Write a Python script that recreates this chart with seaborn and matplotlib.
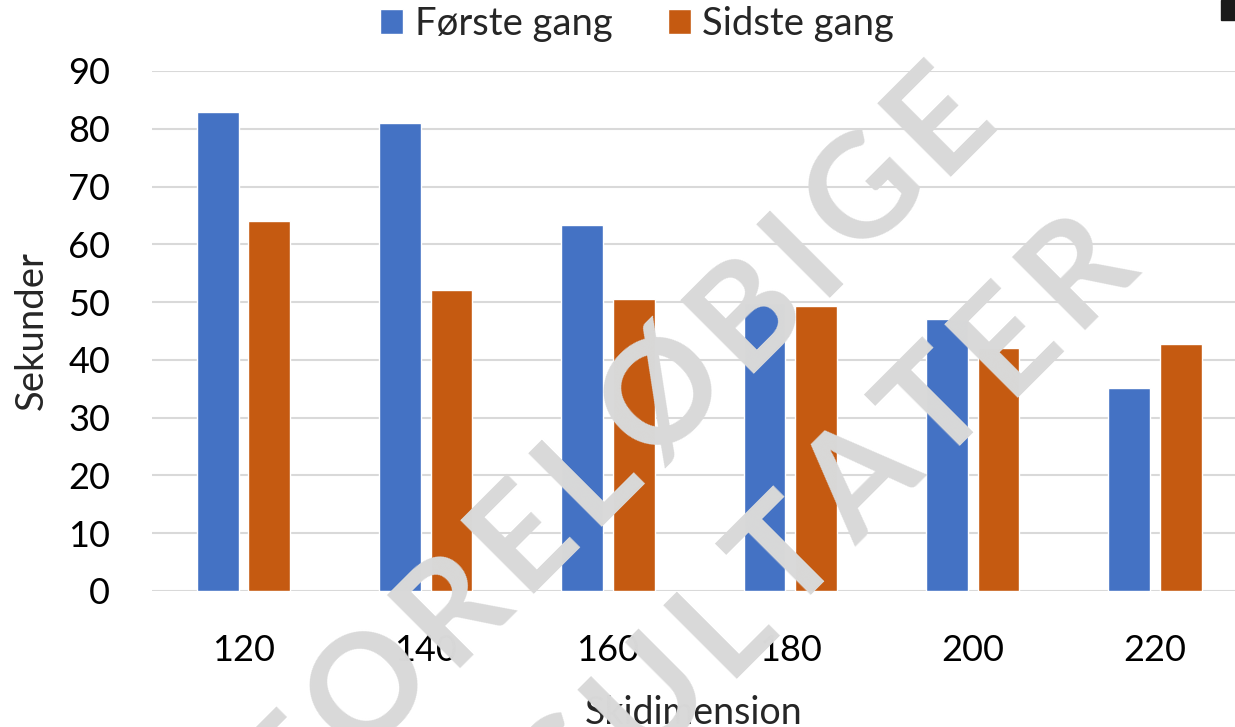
import matplotlib
matplotlib.use("Agg")
import matplotlib.pyplot as plt
import seaborn as sns
import pandas as pd
import numpy as np
from matplotlib.patches import Rectangle
from matplotlib.font_manager import FontProperties

categories = ["120", "140", "160", "180", "200", "220"]
series_names = ["Første gang", "Sidste gang"]
forste = [82.9, 81.0, 63.3, 49.8, 47.0, 35.1]
sidste = [64.0, 52.1, 50.6, 49.3, 42.1, 42.7]
yticks = [0, 10, 20, 30, 40, 50, 60, 70, 80, 90]
watermark_lines = ["FORELØBIGE", "RESULTATER"]

sns.set_style("white")
plt.rcParams['font.family'] = ['Lato', 'DejaVu Sans']

df = pd.DataFrame({
    "Skidimension": categories * 2,
    "Sekunder": forste + sidste,
    "Serie": [series_names[0]] * len(categories) + [series_names[1]] * len(categories),
})

W, H = 1235, 727
fig = plt.figure(figsize=(W / 100, H / 100), dpi=100)
ax = fig.add_axes([152 / W, 136 / H, (W - 152) / W, 520 / H])

sns.barplot(data=df, x="Skidimension", y="Sekunder", hue="Serie",
            order=categories, hue_order=series_names,
            palette=["#4472C4", "#C55A11"], width=0.565, gap=0.19,
            saturation=1, ax=ax, zorder=2)

ax.set_ylim(0, 90)
ax.set_xlim(-0.502, 5.439)
ax.set_yticks(yticks)
ax.yaxis.grid(True, color="#D9D9D9", linewidth=1.5, zorder=0)
ax.set_axisbelow(True)
for s in ax.spines.values():
    s.set_visible(False)
ax.tick_params(axis="both", length=0, labelsize=26, colors="black")
ax.tick_params(axis="y", pad=30)
ax.tick_params(axis="x", pad=31)
ax.set_xlabel("Skidimension", fontsize=27, labelpad=20)
ax.set_ylabel("Sekunder", fontsize=27.5, labelpad=13)

leg = ax.get_legend()
handles, labels = ax.get_legend_handles_labels()
leg.remove()
fig.legend(handles, labels, loc="center", bbox_to_anchor=(0.516, 1 - 24 / H),
           ncol=2, frameon=False, fontsize=27.5, handlelength=0.6, handleheight=0.6,
           handletextpad=0.3, columnspacing=1.45, borderaxespad=0)

# watermark: letters laid out along a 45 degree line with extra tracking
wm_size = 104
fp = FontProperties(family=["Lato", "DejaVu Sans"], weight="bold", size=wm_size)
renderer = fig.canvas.get_renderer()
angle = np.deg2rad(45)
ux, uy = np.cos(angle), -np.sin(angle)  # direction in screen pixels (y down)
tracking = 12
centres = [(645, 472), (787, 617)]  # baseline centres in screen pixels
for line, (cx, cy) in zip(watermark_lines, centres):
    widths = [renderer.get_text_width_height_descent(ch, fp, ismath=False)[0] for ch in line]
    total = sum(widths) + tracking * (len(line) - 1)
    s = -total / 2
    for ch, w in zip(line, widths):
        d = s + w / 2
        px, py = cx + d * ux, cy + d * uy
        fig.text(px / W, 1 - py / H, ch, fontproperties=fp, color="#D9D9D9",
                 rotation=45, ha="center", va="baseline", rotation_mode="anchor",
                 zorder=10)
        s += w + tracking

fig.add_artist(Rectangle((1221 / W, 1 - 20 / H), 14 / W, 20 / H,
                         transform=fig.transFigure, color="#1a1a1a", zorder=20))

fig.savefig("out.png", dpi=100)
